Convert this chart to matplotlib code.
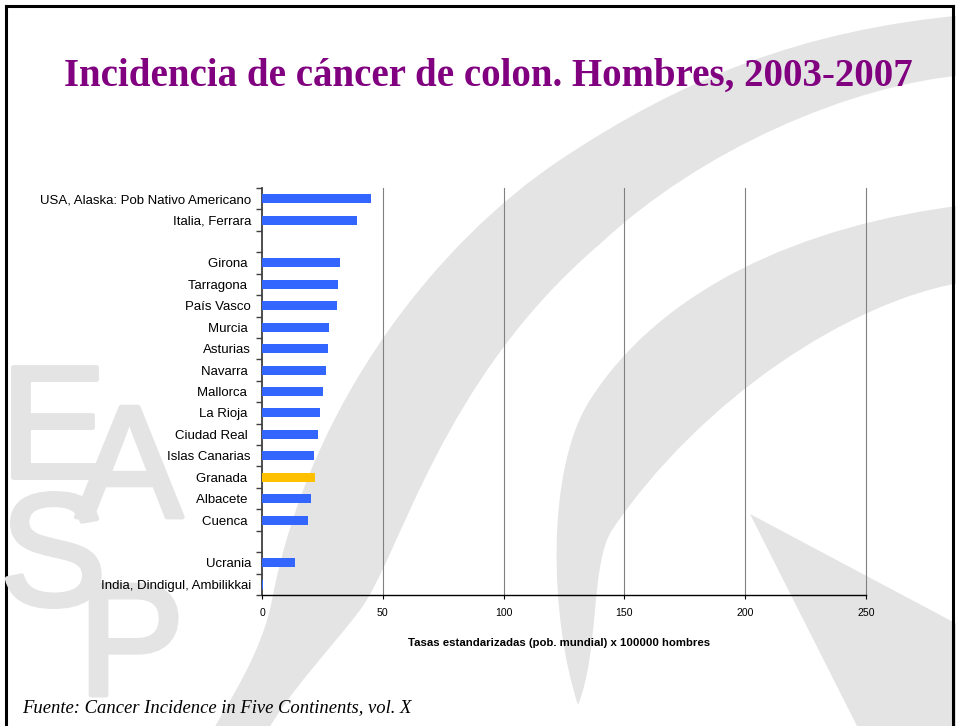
import numpy as np
import matplotlib
matplotlib.use('Agg')
import matplotlib.pyplot as plt
import matplotlib.patheffects as pe
from matplotlib.patches import Polygon, PathPatch
from matplotlib.path import Path

# data
labels = ["USA, Alaska: Pob Nativo Americano", "Italia, Ferrara", "",
          "Girona ", "Tarragona ", "País Vasco", "Murcia ", "Asturias",
          "Navarra ", "Mallorca ", "La Rioja ", "Ciudad Real ",
          "Islas Canarias", "Granada ", "Albacete ", "Cuenca ", "",
          "Ucrania", "India, Dindigul, Ambilikkai"]
values = [45.2, 39.4, None,
          32.4, 31.5, 31.0, 27.7, 27.3,
          26.6, 25.2, 24.0, 23.2,
          21.5, 21.9, 20.3, 19.0, None,
          13.6, 0.4]
highlight = "Granada"
xticks = [0, 50, 100, 150, 200, 250]

title = "Incidencia de cáncer de colon. Hombres, 2003-2007"
xlabel = "Tasas estandarizadas (pob. mundial) x 100000 hombres"
source = "Fuente: Cancer Incidence in Five Continents, vol. X"

W, H = 956, 726


def curve_patch(start, segments, **kw):
    """Closed shape from a start point and a list of cubic segments (c1, c2, end)."""
    verts = [start]
    codes = [Path.MOVETO]
    for c1, c2, end in segments:
        verts += [c1, c2, end]
        codes += [Path.CURVE4] * 3
    verts.append(start)
    codes.append(Path.CLOSEPOLY)
    return PathPatch(Path(verts, codes), **kw)


fig = plt.figure(figsize=(W / 100, H / 100), dpi=100)

# background: slide watermark, in pixel coordinates
gray = '#e4e4e4'
bg = fig.add_axes([0, 0, 1, 1], zorder=0)
bg.set_xlim(0, W)
bg.set_ylim(H, 0)
bg.axis('off')

# outer arc
bg.add_patch(curve_patch((965, 15), [
    ((800, 30), (680, 80), (560, 160)),
    ((440, 240), (310, 400), (272, 600)),
    ((262, 652), (230, 700), (210, 735)),
    ((240, 735), (250, 735), (265, 735)),
    ((290, 690), (330, 650), (360, 610)),
    ((400, 557), (440, 380), (600, 244)),
    ((700, 150), (850, 85), (965, 75)),
], color=gray, lw=0))
# inner arc
bg.add_patch(curve_patch((965, 205), [
    ((800, 225), (660, 290), (590, 400)),
    ((545, 470), (550, 620), (578, 705)),
    ((600, 650), (590, 565), (612, 530)),
    ((700, 400), (850, 300), (965, 282)),
], color=gray, lw=0))
# wedge at bottom right
bg.add_patch(Polygon([(750, 514), (1100, 700), (1100, 760), (857, 760), (857, 726)],
                     closed=True, color=gray, lw=0))
for ch, x, yb in [('E', 0, 477), ('A', 76, 517), ('S', 0, 605), ('P', 78, 695)]:
    bg.text(x, yb, ch, fontsize=115, family='Liberation Sans', color=gray,
            ha='left', va='baseline',
            path_effects=[pe.withStroke(linewidth=3.5, foreground=gray)])

# slide frame
bg.plot([6, 6], [6, H], color='black', lw=2.2)
bg.plot([6, 953], [6, 6], color='black', lw=2.2)
bg.plot([953, 953], [6, H], color='black', lw=2.2)

# chart
ax = fig.add_axes([262 / W, 1 - 595 / H, 604 / W, 407 / H], zorder=1)
ax.patch.set_alpha(0)

y = np.arange(len(labels))
vals = np.array([np.nan if v is None else v for v in values])
colors = ['#ffc000' if l.strip() == highlight else '#3366ff' for l in labels]
ax.barh(y, vals, height=0.42, color=colors, zorder=3)

ax.set_xlim(0, 250)
ax.set_ylim(len(labels) - 0.5, -0.5)
ax.set_xticks(xticks)
for t in xticks[1:]:
    ax.axvline(t, color='#808080', lw=0.8, zorder=0, clip_on=False)
ax.set_yticks(y)
ax.set_yticklabels(labels, family='Liberation Sans', fontsize=9.5)
ax.set_yticks(np.arange(-0.5, len(labels), 1), minor=True)
ax.tick_params(axis='y', which='major', length=0, pad=8)
ax.tick_params(axis='y', which='minor', length=4, width=1, color='#404040')
ax.tick_params(axis='x', length=3, width=0.8, pad=6, labelsize=7.6)
for t in ax.get_xticklabels():
    t.set_family('Liberation Sans')

for s in ('top', 'right'):
    ax.spines[s].set_visible(False)
ax.spines['left'].set_color('#404040')
ax.spines['left'].set_linewidth(1.3)
ax.spines['bottom'].set_color('black')
ax.spines['bottom'].set_linewidth(1.0)

fig.text(559 / W, 1 - 643 / H, xlabel, ha='center', va='center',
         family='Liberation Sans', fontweight='bold', fontsize=8.2)

# titles
fig.text(488 / W, 1 - 76 / H, title, ha='center', va='center',
         family='Liberation Serif', fontweight='bold', fontsize=28, color='#800080')
fig.text(22 / W, 1 - 708 / H, source, ha='left', va='center',
         family='Liberation Serif', style='italic', fontsize=13.4)

fig.savefig('out.png', dpi=100)
